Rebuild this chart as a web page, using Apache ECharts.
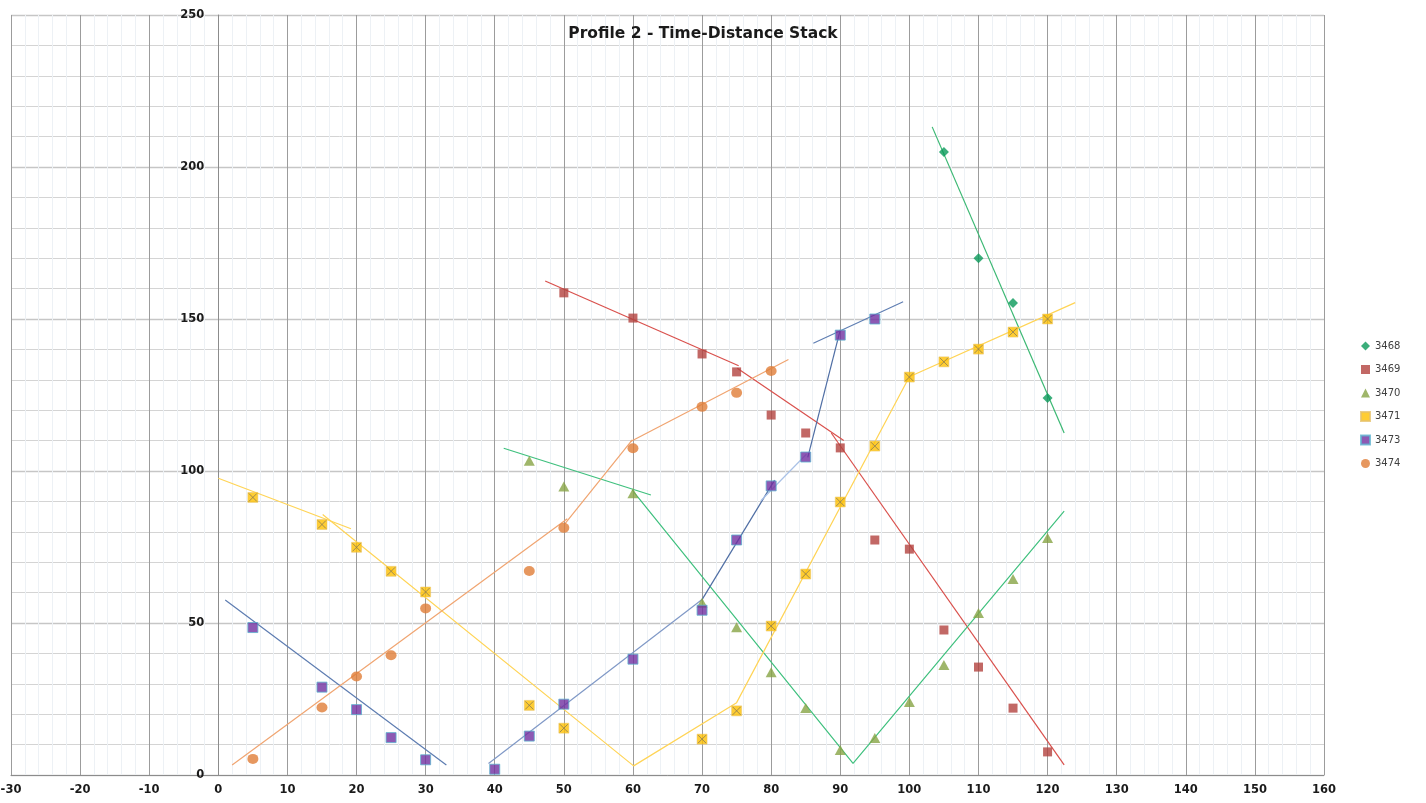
<!DOCTYPE html>
<html>
<head>
<meta charset="utf-8">
<script src="https://cdn.jsdelivr.net/npm/echarts@6/dist/echarts.min.js"></script>
<style>
  html, body { margin: 0; padding: 0; background: #ffffff; }
  #chart { width: 1426px; height: 803px; }
</style>
</head>
<body>
<div id="chart"></div>
<script>
// ---- Data ----
const seriesNames = ['3468', '3469', '3470', '3471', '3473', '3474'];

const xs3468 = [105, 110, 115, 120];
const ys3468 = [204.9, 170.0, 155.3, 124.0];

const xs3469 = [50, 60, 70, 75, 80, 85, 90, 95, 100, 105, 110, 115, 120];
const ys3469 = [158.6, 150.3, 138.5, 132.6, 118.4, 112.5, 107.6, 77.3, 74.3, 47.7, 35.5, 22.0, 7.6];

const xs3470 = [45, 50, 60, 70, 75, 80, 85, 90, 95, 100, 105, 110, 115, 120];
const ys3470 = [103.4, 94.9, 92.7, 56.7, 48.6, 33.8, 22.0, 8.2, 12.2, 24.0, 36.2, 53.3, 64.5, 78.0];

const xs3471 = [5, 15, 20, 25, 30, 45, 50, 70, 75, 80, 85, 90, 95, 100, 105, 110, 115, 120];
const ys3471 = [91.3, 82.4, 74.9, 67.0, 60.2, 22.9, 15.4, 11.8, 21.1, 49.0, 66.1, 89.8, 108.2, 130.9, 135.9, 140.1, 145.7, 150.0];

const xs3473 = [5, 15, 20, 25, 30, 40, 45, 50, 60, 70, 75, 80, 85, 90, 95];
const ys3473 = [48.5, 28.9, 21.5, 12.3, 5.0, 1.9, 12.8, 23.3, 38.1, 54.2, 77.3, 95.1, 104.6, 144.7, 150.0];

const xs3474 = [5, 15, 20, 25, 30, 45, 50, 60, 70, 75, 80];
const ys3474 = [5.3, 22.2, 32.4, 39.4, 54.8, 67.1, 81.3, 107.5, 121.1, 125.7, 132.9];

// Trend-line pieces (x, y) for each profile
const trend3468 = [[[103.3, 213.2], [122.4, 112.5]]];
const trend3469 = [
  [[47.3, 162.5], [75.3, 134.6]],
  [[75.1, 133.8], [90.5, 110.0]],
  [[88.7, 112.5], [122.4, 3.3]]
];
const trend3470 = [
  [[41.3, 107.5], [62.6, 92.1]],
  [[59.9, 93.7], [91.85, 3.8], [122.4, 86.8]]
];
const trend3471 = [
  [[0, 97.6], [19.2, 81.0]],
  [[15.1, 85.7], [60.1, 3.0], [75.0, 23.8], [100, 131.0], [124.0, 155.4]]
];
const trend3473 = [
  [[1.0, 57.6], [33.0, 3.3]],
  [[39.1, 3.8], [70.0, 57.7]],
  [[70.0, 57.7], [80.5, 97.0]],
  [[78.5, 90.2], [85.1, 105.5]],
  [[85.3, 104.5], [90.0, 146.4]],
  [[86.1, 142.0], [99.1, 155.7]]
];
const trend3474 = [
  [[2.0, 3.3], [50.5, 84.3]],
  [[50.2, 82.8], [59.9, 110.2]],
  [[59.6, 109.6], [82.5, 136.7]]
];

const xTicks = { min: -30, max: 160, step: 10 };
const yTicks = { min: 0, max: 250, step: 50 };

// ---- Styles ----
const trendColors = {
  '3468': ['#3bb873'],
  '3469': ['#d9504c', '#d9504c', '#d9504c'],
  '3470': ['#3fc07e', '#3fc07e'],
  '3471': ['#ffd456', '#ffd456'],
  '3473': ['#5d7cb1', '#7f98c6', '#4f6ea4', '#a9c1e6', '#4f6ea4', '#5f7eb2'],
  '3474': ['#f0a470', '#f0a470', '#f0a470']
};
const trends = { '3468': trend3468, '3469': trend3469, '3470': trend3470, '3471': trend3471, '3473': trend3473, '3474': trend3474 };

function pairs(xs, ys) { return xs.map((x, i) => [x, ys[i]]); }

const series = [];
seriesNames.forEach(n => {
  trends[n].forEach((seg, i) => {
    series.push({
      type: 'line', name: 'trend' + n + '_' + i, data: seg,
      symbol: 'none', silent: true, z: 1,
      lineStyle: { width: 1.2, color: trendColors[n][i] }
    });
  });
});

series.push({
  type: 'scatter', name: '3468', data: pairs(xs3468, ys3468),
  symbol: 'diamond', symbolSize: [10, 10], z: 3,
  itemStyle: { color: '#0a9a5a' }
});
series.push({
  type: 'scatter', name: '3469', data: pairs(xs3469, ys3469),
  symbol: 'rect', symbolSize: [9, 9], z: 3,
  itemStyle: { color: '#b3423e' }
});
series.push({
  type: 'scatter', name: '3470', data: pairs(xs3470, ys3470),
  symbol: 'triangle', symbolSize: [11, 10], z: 3,
  itemStyle: { color: '#87a445' }
});
series.push({
  type: 'scatter', name: '3471', data: pairs(xs3471, ys3471),
  symbol: 'rect', symbolSize: [10, 10], z: 3,
  itemStyle: { color: '#ffc000', borderColor: '#e6c26a', borderWidth: 0.6 }
});
series.push({
  type: 'scatter', name: '3471', data: pairs(xs3471, ys3471),
  symbol: 'path://M0,0L10,10M10,0L0,10', symbolSize: [8, 8], z: 4,
  silent: true,
  itemStyle: { color: 'rgba(0,0,0,0)', borderColor: '#8a7a55', borderWidth: 1 }
});
series.push({
  type: 'scatter', name: '3473', data: pairs(xs3473, ys3473),
  symbol: 'rect', symbolSize: [10, 10], z: 3,
  itemStyle: { color: '#7030a0', borderColor: '#5eb3cf', borderWidth: 1 }
});
series.push({
  type: 'scatter', name: '3474', data: pairs(xs3474, ys3474),
  symbol: 'circle', symbolSize: [11, 10], z: 3,
  itemStyle: { color: '#e07d37' }
});

const tickFont = { fontFamily: 'DejaVu Sans', fontWeight: 'bold', fontSize: 11.5, color: '#1a1a1a' };

const option = {
  animation: false,
  backgroundColor: '#ffffff',
  title: {
    text: 'Profile 2 - Time-Distance Stack',
    left: 703, top: 26, padding: 0, textAlign: 'center',
    textStyle: { fontFamily: 'DejaVu Sans', fontWeight: 'bold', fontSize: 15.5, color: '#1a1a1a' }
  },
  legend: {
    data: seriesNames,
    orient: 'vertical',
    left: 1360, top: 340,
    itemWidth: 9, itemHeight: 9, itemGap: 11.5,
    padding: 0,
    textStyle: { fontFamily: 'DejaVu Sans', fontSize: 10, color: '#404040', lineHeight: 12 }
  },
  grid: { left: 11, right: 102, top: 15, bottom: 28, containLabel: false, outerBoundsMode: 'none' },
  xAxis: {
    type: 'value', min: xTicks.min, max: xTicks.max, interval: xTicks.step,
    axisLine: { show: true, onZero: false, lineStyle: { color: '#8c8c8c', width: 1 } },
    axisTick: { show: false },
    axisLabel: Object.assign({ margin: 9, showMinLabel: true, showMaxLabel: true }, tickFont),
    splitLine: { show: true, lineStyle: { color: '#9c9c9c', width: 1 } },
    minorTick: { show: false, splitNumber: 5 },
    minorSplitLine: { show: true, lineStyle: { color: '#edf1f5', width: 1 } }
  },
  yAxis: {
    type: 'value', min: yTicks.min, max: yTicks.max, interval: yTicks.step,
    position: 'left', offset: -207.3,
    axisLine: { show: true, onZero: false, lineStyle: { color: '#8c8c8c', width: 1 } },
    axisTick: { show: false },
    axisLabel: Object.assign({ margin: 14, showMinLabel: true, showMaxLabel: true }, tickFont),
    splitLine: { show: true, lineStyle: { color: '#c6c6c6', width: 1.3 } },
    minorTick: { show: false, splitNumber: 5 },
    minorSplitLine: { show: true, lineStyle: { color: '#d4d4d4', width: 1 } }
  },
  series: series
};

const chart = echarts.init(document.getElementById('chart'), null, { renderer: 'canvas' });
chart.setOption(option);
</script>
</body>
</html>
